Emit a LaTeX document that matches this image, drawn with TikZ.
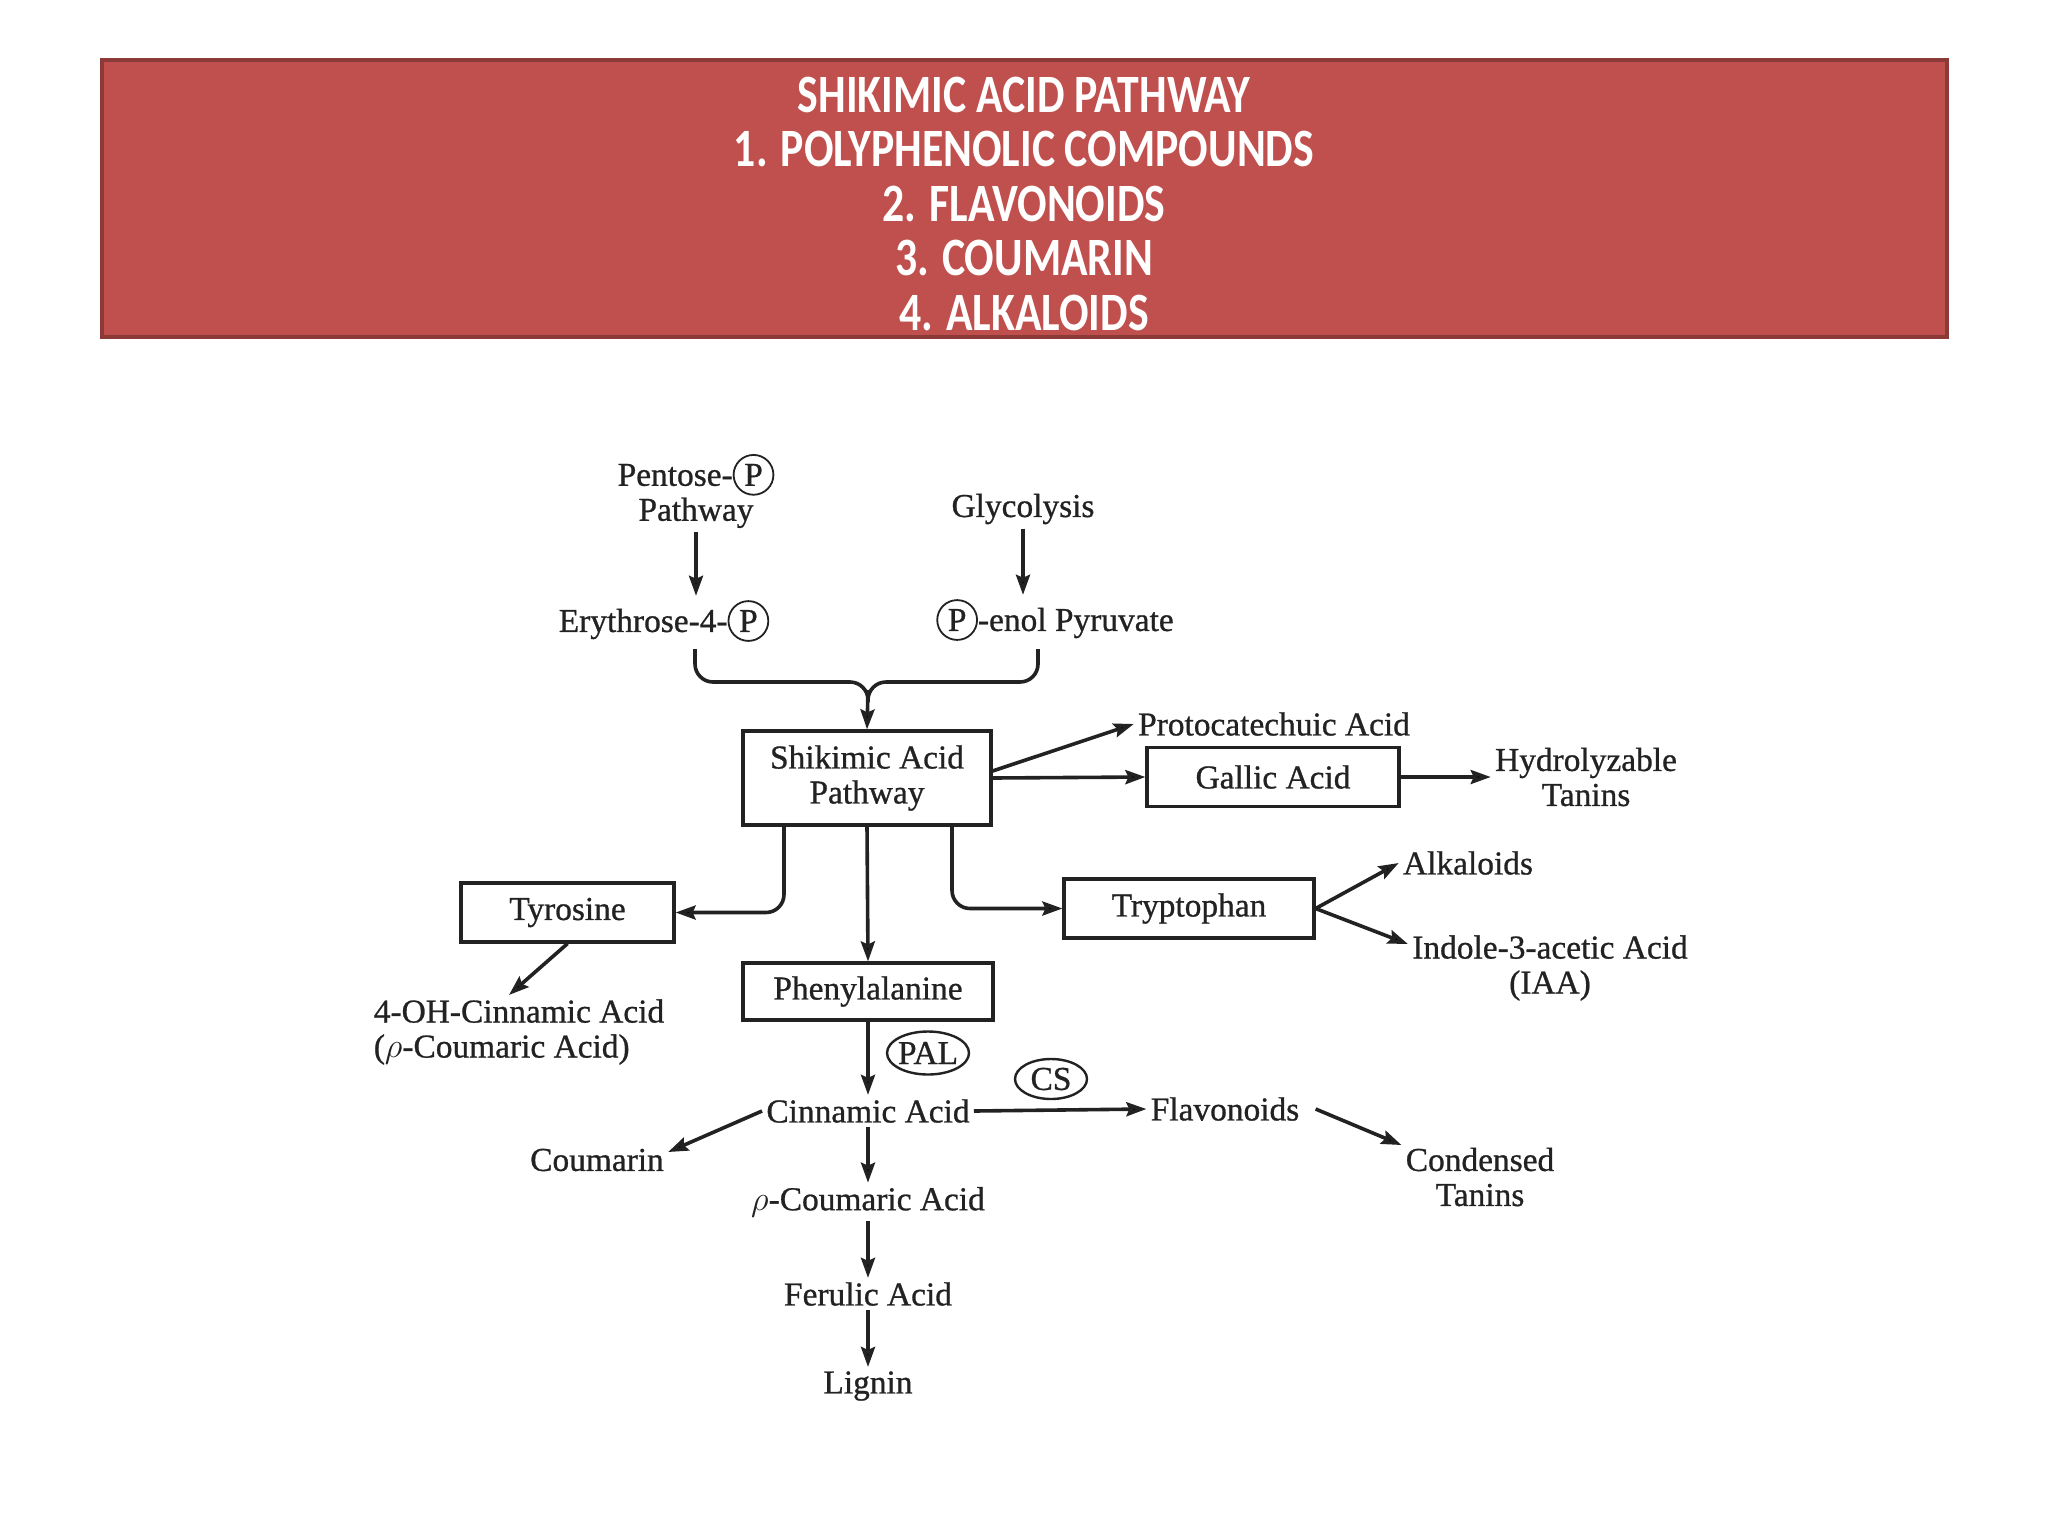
\documentclass[tikz,border=0pt]{standalone}
\usepackage{fontspec}
\setmainfont{Liberation Serif}
\newfontfamily\dfont[FakeBold=0.8]{Liberation Serif}
\newfontfamily\bannerfont{Carlito}
\usetikzlibrary{arrows.meta,shapes.geometric,calc}
\definecolor{bannerred}{HTML}{C0504D}
\definecolor{bannerborder}{HTML}{8C3A38}
\definecolor{ink}{HTML}{222222}
\newcommand\circP{\tikz[baseline=(cpx.base)]\node[draw=ink,circle,inner sep=2pt,line width=0.9pt,anchor=center,text=ink](cpx){P};}
\begin{document}
\begin{tikzpicture}[x=0.5pt,y=-0.5pt,
  lbl/.style={font=\dfont\fontsize{16.7}{17.5}\selectfont, text=ink, inner sep=2pt, align=center},
  boxn/.style={lbl, draw=ink, line width=1.6pt, minimum height=29.5pt},
  conn/.style={draw=ink, line width=1.8pt},
  arr/.style={conn, -{Stealth[length=10pt,width=7pt,inset=1.5pt]}},
  enz/.style={lbl, draw=ink, ellipse, line width=1.2pt, inner sep=0pt}]
\useasboundingbox (0,0) rectangle (2048,1536);
\fill[white] (0,0) rectangle (2048,1536);
% banner
\node[draw=bannerborder, fill=bannerred, line width=2pt, minimum width=922.5pt, minimum height=138.5pt, inner sep=0pt] (banner) at (1024.5,198.5) {};
\node[font=\bannerfont\bfseries\fontsize{27}{27.25}\selectfont, text=white, align=center, inner sep=0pt] (title) at (1024,203.5)
 {\scalebox{0.81}[1]{SHIKIMIC ACID PATHWAY}\\
  \scalebox{0.81}[1]{1. POLYPHENOLIC COMPOUNDS}\\
  \scalebox{0.81}[1]{2. FLAVONOIDS}\\
  \scalebox{0.81}[1]{3. COUMARIN}\\
  \scalebox{0.81}[1]{4. ALKALOIDS}};
% nodes
\node[lbl] (pent) at (696,491) {Pentose-\circP\\Pathway};
\node[lbl] (glyc) at (1023,509) {Glycolysis};
\node[lbl] (ery) at (664,621) {Erythrose-4-\circP};
\node[lbl] (pep) at (1055,620) {\circP-enol Pyruvate};
\node[boxn, minimum width=124pt, minimum height=47pt] (shik) at (867,778) {Shikimic Acid\\Pathway};
\node[lbl] (proto) at (1274,724) {Protocatechuic Acid};
\node[boxn, minimum width=126pt] (gal) at (1273,777) {Gallic Acid};
\node[lbl] (hyd) at (1586,777) {Hydrolyzable\\Tanins};
\node[boxn, minimum width=106.5pt] (tyr) at (567.5,912.5) {Tyrosine};
\node[boxn, minimum width=125pt, minimum height=28.5pt] (phe) at (868,991.5) {Phenylalanine};
\node[boxn, minimum width=125pt] (try) at (1189,908.5) {Tryptophan};
\node[lbl] (alk) at (1468,863) {Alkaloids};
\node[lbl] (iaa) at (1550,968) {Indole-3-acetic Acid\\(IAA)};
\node[lbl, align=left] (ohc) at (519,1032) {4-OH-Cinnamic Acid\\($\rho$-Coumaric Acid)};
\node[enz, minimum width=41pt, minimum height=21.5pt] (pal) at (928,1053) {\makebox[0pt]{PAL}};
\node[lbl] (cin) at (868,1111) {Cinnamic Acid};
\node[lbl] (cou) at (597,1160) {Coumarin};
\node[enz, minimum width=36pt, minimum height=20pt] (cs) at (1051,1079) {\makebox[0pt]{CS}};
\node[lbl] (fla) at (1225,1109) {Flavonoids};
\node[lbl] (con) at (1480,1177) {Condensed\\Tanins};
\node[lbl] (pco) at (868,1202) {$\rho$-Coumaric Acid};
\node[lbl] (fer) at (868,1294) {Ferulic Acid};
\node[lbl] (lig) at (868,1386) {Lignin};
% connectors
\draw[arr] (pent.south) -- (pent.south |- ery.north);
\draw[arr] (glyc.south) -- (glyc.south |- pep.north);
\coordinate (bL) at (695,649);
\coordinate (bR) at (1038,649);
\coordinate (bJ) at (868,682);
\coordinate (bJ2) at (868,690);
\draw[conn, rounded corners=9pt] (bL) |- (bJ) -- ++(0,20);
\draw[conn, rounded corners=9pt] (bR) |- (bJ) -- ++(0,20);
\draw[arr] (bJ2) -- (shik.north);
\draw[arr] (shik.east) -- (gal.west);
\draw[arr] ([yshift=3.5pt]shik.east) -- (proto.west);
\draw[arr] (gal.east) -- (hyd.west);
\draw[arr, rounded corners=9pt] ([xshift=-41.5pt]shik.south) |- (tyr.east);
\draw[arr] (shik.south) -- (phe.north);
\draw[arr, rounded corners=9pt] ([xshift=42.5pt]shik.south) |- (try.west);
\draw[arr] (try.east) -- (alk.west);
\draw[arr] (try.east) -- ([yshift=12pt]iaa.west);
\draw[arr] (tyr.south) -- ([xshift=-5pt]ohc.north);
\draw[arr] (phe.south) -- (cin.north);
\draw[arr] (cin.west) -- ([yshift=4pt]cou.east);
\draw[arr] (cin.east) -- (fla.west);
\draw[arr] ([xshift=6pt]fla.east) -- ([yshift=16pt]con.west);
\draw[arr] (cin.south) -- (pco.north);
\draw[arr] (pco.south) -- (fer.north);
\draw[arr] (fer.south) -- (lig.north);
\end{tikzpicture}
\end{document}
